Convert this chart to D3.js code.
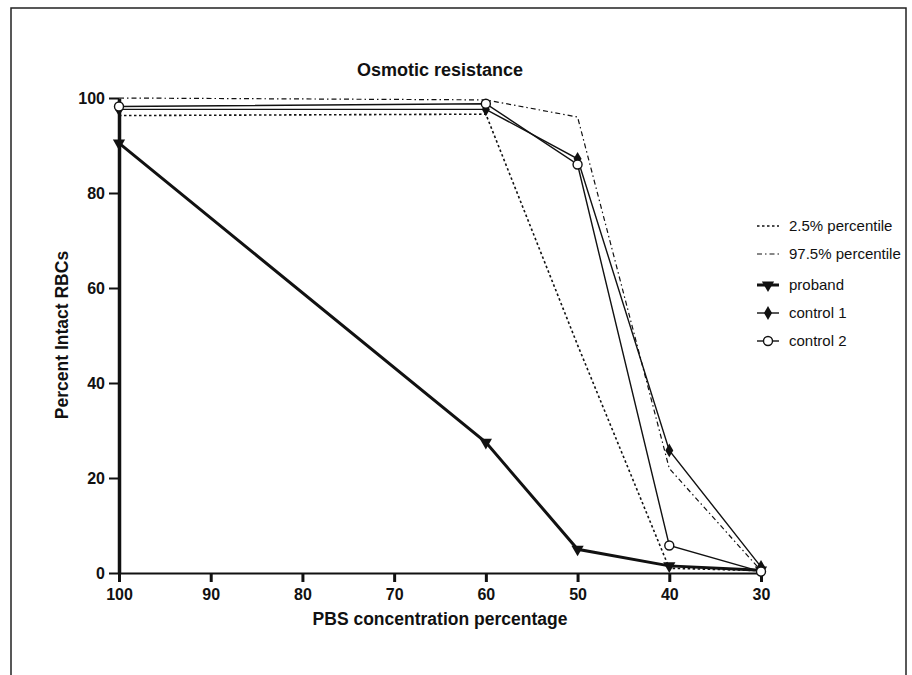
<!DOCTYPE html>
<html>
<head>
<meta charset="utf-8">
<script src="https://cdn.jsdelivr.net/npm/d3@7"></script>
<style>
  body { margin: 0; background: #fff; }
  text { font-family: "Liberation Sans", Arial, sans-serif; fill: #111; }
</style>
</head>
<body>
<svg width="912" height="675"></svg>
<script>
var concentrations = [100, 60, 50, 40, 30];
var pct2_5  = [96.3, 96.6, 48, 1.0, 0.5];
var pct97_5 = [100, 99.6, 96, 22, 0.5];
var proband = [90.5, 27.5, 5.0, 1.5, 0.6];
var control1 = [97.6, 97.6, 87.2, 25.8, 1.3];
var control2 = [98.2, 98.8, 86.0, 5.8, 0.3];
var xTicks = [100, 90, 80, 70, 60, 50, 40, 30];
var yTicks = [0, 20, 40, 60, 80, 100];

var series = [
  {name: "2.5% percentile", values: pct2_5, dash: "2.5,2.5", width: 1.6, symbol: null},
  {name: "97.5% percentile", values: pct97_5, dash: "5,3,1.5,3", width: 1.2, symbol: null},
  {name: "proband", values: proband, dash: null, width: 3, symbol: "tri"},
  {name: "control 1", values: control1, dash: null, width: 1.4, symbol: "diamond"},
  {name: "control 2", values: control2, dash: null, width: 1.4, symbol: "circle"}
];
var legendY = [226, 254, 285, 313, 341];

var svg = d3.select("svg");

// outer frame
svg.append("rect").attr("x", 11).attr("y", 8).attr("width", 895).attr("height", 700)
  .attr("fill", "none").attr("stroke", "#222").attr("stroke-width", 1.5);

var x = d3.scaleLinear().domain([100, 30]).range([119, 761]);
var y = d3.scaleLinear().domain([0, 100]).range([573, 98]);

// x axis
var gx = svg.append("g").attr("transform", "translate(0,573)")
  .call(d3.axisBottom(x).tickValues(xTicks).tickSize(9).tickPadding(7).tickSizeOuter(0));
gx.select(".domain").attr("stroke", "#111").attr("stroke-width", 2);
gx.selectAll(".tick line").attr("stroke", "#111").attr("stroke-width", 3);
gx.selectAll("text").attr("font-size", 16).attr("font-weight", "bold");

// y axis
var gy = svg.append("g").attr("transform", "translate(119,0)")
  .call(d3.axisLeft(y).tickValues(yTicks).tickSize(10).tickPadding(4).tickSizeOuter(0));
gy.select(".domain").attr("stroke", "#111").attr("stroke-width", 3.5);
gy.selectAll(".tick line").attr("stroke", "#111").attr("stroke-width", 2);
gy.selectAll("text").attr("font-size", 16).attr("font-weight", "bold");

var line = d3.line()
  .x(function(d, i) { return x(concentrations[i]); })
  .y(function(d) { return y(d); });

series.forEach(function(s) {
  svg.append("path").datum(s.values)
    .attr("d", line)
    .attr("fill", "none")
    .attr("stroke", "#111")
    .attr("stroke-width", s.width)
    .attr("stroke-dasharray", s.dash);
});

function drawSymbol(g, type, cx, cy) {
  if (type === "tri") {
    g.append("path").attr("transform", "translate(" + cx + "," + cy + ") rotate(180)")
      .attr("d", d3.symbol().type(d3.symbolTriangle).size(65)).attr("fill", "#111");
  } else if (type === "diamond") {
    g.append("path").attr("transform", "translate(" + cx + "," + cy + ")")
      .attr("d", d3.symbol().type(d3.symbolDiamond).size(55)).attr("fill", "#111");
  } else if (type === "circle") {
    g.append("circle").attr("cx", cx).attr("cy", cy).attr("r", 4.5)
      .attr("fill", "#fff").attr("stroke", "#111").attr("stroke-width", 1.4);
  }
}

var marks = svg.append("g");
series.forEach(function(s) {
  if (!s.symbol) return;
  s.values.forEach(function(v, i) {
    drawSymbol(marks, s.symbol, x(concentrations[i]), y(v));
  });
});

// legend
var legend = svg.append("g");
series.forEach(function(s, i) {
  var ly = legendY[i];
  legend.append("line").attr("x1", 757).attr("x2", 779).attr("y1", ly).attr("y2", ly)
    .attr("stroke", "#111").attr("stroke-width", s.width).attr("stroke-dasharray", s.dash);
  drawSymbol(legend, s.symbol, 768, ly);
  legend.append("text").attr("x", 789).attr("y", ly + 5).attr("font-size", 15).text(s.name);
});

// titles
svg.append("text").attr("x", 440).attr("y", 76).attr("text-anchor", "middle")
  .attr("font-size", 18).attr("font-weight", "bold").text("Osmotic resistance");
svg.append("text").attr("x", 440).attr("y", 625).attr("text-anchor", "middle")
  .attr("font-size", 17.5).attr("font-weight", "bold").text("PBS concentration percentage");
svg.append("text").attr("transform", "translate(68,335) rotate(-90)").attr("text-anchor", "middle")
  .attr("font-size", 17.5).attr("font-weight", "bold").text("Percent Intact RBCs");
</script>
</body>
</html>
